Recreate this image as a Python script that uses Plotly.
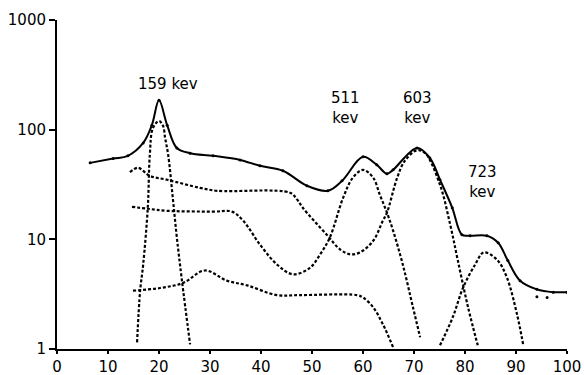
import plotly.graph_objects as go

# Total measured spectrum (solid)
total_x = [6.5, 11.0, 13.9, 16.9, 18.6, 20.0, 21.6, 23.5, 26.1, 30.6, 35.9, 39.8, 44.3, 49.0, 53.1, 55.9,
           60.0, 62.7, 64.7, 65.9, 70.6, 73.1, 75.1, 77.5, 79.4, 81.0, 84.3, 86.5, 88.4, 90.8, 94.1, 97.3, 100.0]
total_y = [49.8, 54.5, 57.7, 75.7, 110, 185, 110, 68, 61, 57.7, 53, 46.8, 42.2, 30.8, 27.7, 34.2,
           56.5, 47.8, 39.6, 43, 68.2, 55.3, 34.9, 19.4, 11.0, 10.8, 10.8, 9.3, 6.4, 4.2, 3.5, 3.3, 3.3]
stray_x = [94.1, 96.1]
stray_y = [3.0, 2.95]

# 159 keV component
p159_x = [15.7, 16.3, 16.9, 17.8, 18.2, 18.8, 20.0, 20.8, 21.2, 21.8, 22.7, 23.5, 24.5, 26.1]
p159_y = [1.15, 3.4, 5.9, 19.4, 59, 103, 120, 108, 84, 59, 24, 10.4, 4.2, 1.1]

# Curve A: background + 603 keV
a_x = [14.3, 15.9, 18.2, 21.6, 28.0, 31.4, 45.7, 47.1, 48.2, 52.9, 55.5, 57.5, 59.4, 62.0, 63.9, 64.7,
       66.7, 68.2, 70.6, 72.2, 75.1, 77.1, 78.6, 80.6, 82.5]
a_y = [41, 44.9, 37.9, 34.9, 29.5, 27.7, 26.6, 23, 19.4, 11.0, 8.1, 7.3, 7.6, 9.7, 14.8, 17.5,
       36.4, 52, 65, 61, 31.4, 13.6, 6.4, 2.4, 1.08]

# Curve B: background + 511 keV
b_x = [14.7, 17.8, 21.6, 30.6, 34.3, 36.5, 39.8, 43.3, 46.3, 49.6, 51.6, 53.5, 56.1, 58.0, 60.0, 62.0,
       63.3, 64.7, 65.9, 67.8, 69.8, 71.2]
b_y = [19.8, 19.0, 18.2, 17.9, 17.9, 14.8, 8.95, 5.8, 4.8, 5.5, 7.3, 10.4, 23.9, 36.4, 43, 36.4,
       25.5, 17.5, 12, 5.9, 2.4, 1.28]

# Curve C: lowest background
c_x = [14.9, 20.2, 24.7, 29.0, 33.3, 37.3, 43.1, 47.6, 58.8, 60.0, 62.0, 63.9, 65.9]
c_y = [3.4, 3.6, 4.0, 5.2, 4.2, 3.8, 3.1, 3.1, 3.1, 2.95, 2.4, 1.68, 1.04]

# 723 keV component
p723_x = [75.1, 77.6, 79.6, 82.0, 83.7, 86.3, 88.2, 90.2, 91.4]
p723_y = [1.08, 1.95, 3.6, 5.9, 7.6, 6.5, 4.5, 2.07, 1.1]

x_ticks = [0, 10, 20, 30, 40, 50, 60, 70, 80, 90, 100]
y_ticks = [1, 10, 100, 1000]
y_tick_labels = ["1", "10", "100", "1000"]

# label text, x, log10(y) of centre
labels = [("159 kev", 21.8, 2.42), ("511<br>kev", 56.5, 2.2), ("603<br>kev", 70.7, 2.2),
          ("723<br>kev", 83.5, 1.52)]

fig = go.Figure()
dash_style = dict(color="black", width=2.2, dash="3px,2px")
for xs, ys in [(p159_x, p159_y), (a_x, a_y), (b_x, b_y), (c_x, c_y), (p723_x, p723_y)]:
    fig.add_trace(go.Scatter(x=xs, y=ys, mode="lines", line=dict(shape="spline", smoothing=1.0, **dash_style),
                             showlegend=False, hoverinfo="skip"))
fig.add_trace(go.Scatter(x=total_x, y=total_y, mode="lines+markers",
                         line=dict(color="black", width=2, shape="spline", smoothing=1.0),
                         marker=dict(size=3, color="black"), showlegend=False))
fig.add_trace(go.Scatter(x=stray_x, y=stray_y, mode="markers", marker=dict(size=3, color="black"),
                         showlegend=False))

for text, lx, ly in labels:
    fig.add_annotation(x=lx, y=ly, xref="x", yref="y", text=text, showarrow=False,
                       font=dict(family="DejaVu Sans", size=15, color="black"), align="center")

fig.update_layout(
    width=584, height=375,
    margin=dict(l=57, r=17, t=20, b=26),
    paper_bgcolor="white", plot_bgcolor="white",
    font=dict(family="DejaVu Sans", color="black"),
    xaxis=dict(range=[0, 100], tickvals=x_ticks, showgrid=False, zeroline=False,
               showline=True, linecolor="black", linewidth=2, ticks="outside", ticklen=3,
               tickwidth=1.5, tickcolor="black", tickfont=dict(size=15), automargin=False),
    yaxis=dict(type="log", range=[0, 3], tickvals=y_ticks, ticktext=y_tick_labels, showgrid=False,
               zeroline=False, showline=True, linecolor="black", linewidth=2, ticks="outside",
               ticklen=6, tickwidth=1.5, tickcolor="black", tickfont=dict(size=15), automargin=False),
)

fig.write_html("out.html")
